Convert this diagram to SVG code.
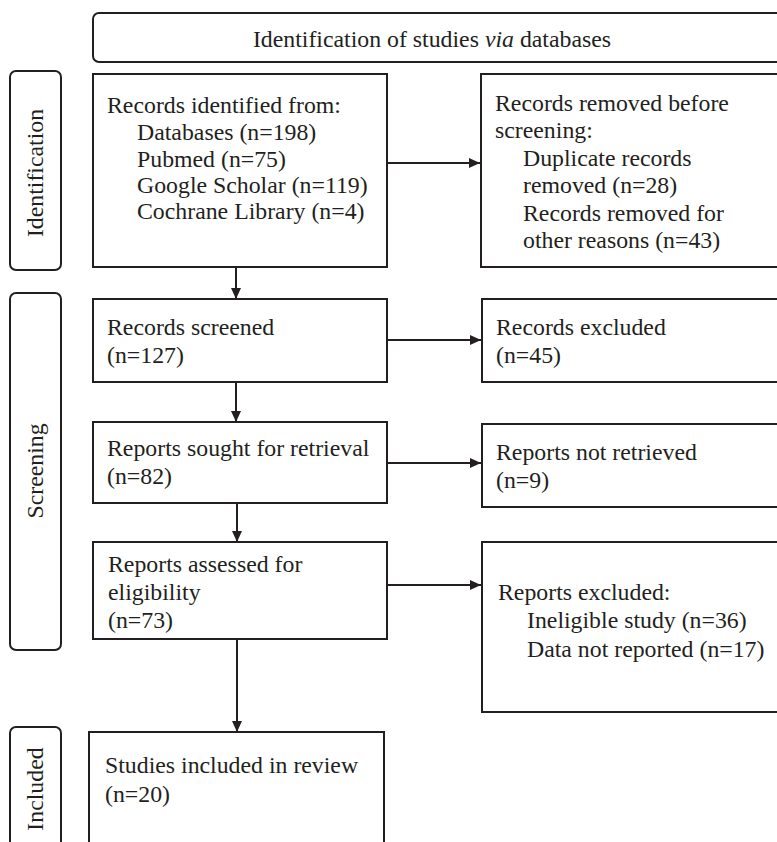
<svg xmlns="http://www.w3.org/2000/svg" width="777" height="842" viewBox="0 0 777 842">
<style>
  .box { fill: #ffffff; stroke: #231f20; stroke-width: 2; }
  .lbl { fill: #ffffff; stroke: #231f20; stroke-width: 2; }
  .t { font-family: "Liberation Serif", "Times New Roman", serif; font-size: 23.8px; fill: #231f20; }
  .c { fill: none; stroke: #231f20; stroke-width: 2; marker-end: url(#ah); }
</style>
<defs>
  <marker id="ah" markerWidth="11" markerHeight="10" refX="11" refY="5" orient="auto" markerUnits="userSpaceOnUse">
    <path d="M0,0 L11,5 L0,10 z" fill="#231f20"/>
  </marker>
</defs>
<rect width="777" height="842" fill="#ffffff"/>

<g id="header">
  <rect class="lbl" x="93" y="13" width="720" height="49" rx="6"/>
  <text class="t" x="432" y="47" text-anchor="middle">Identification of studies <tspan font-style="italic">via</tspan> databases</text>
</g>

<g id="label-identification">
  <rect class="lbl" x="10" y="71" width="51" height="199" rx="6"/>
  <text class="t" transform="translate(43,173) rotate(-90)" text-anchor="middle">Identification</text>
</g>
<g id="label-screening">
  <rect class="lbl" x="10" y="293" width="51" height="357" rx="6"/>
  <text class="t" transform="translate(43,471) rotate(-90)" text-anchor="middle">Screening</text>
</g>
<g id="label-included">
  <rect class="lbl" x="10" y="727" width="51" height="140" rx="6"/>
  <text class="t" transform="translate(43,789) rotate(-90)" text-anchor="middle">Included</text>
</g>

<g id="connectors">
  <line class="c" x1="387" y1="163" x2="480" y2="163"/>
  <line class="c" x1="387" y1="340" x2="481" y2="340"/>
  <line class="c" x1="387" y1="463" x2="481" y2="463"/>
  <line class="c" x1="388" y1="585" x2="481" y2="585"/>
  <line class="c" x1="236" y1="267" x2="236" y2="299"/>
  <line class="c" x1="236" y1="382" x2="236" y2="422"/>
  <line class="c" x1="237" y1="503" x2="237" y2="542"/>
  <line class="c" x1="237" y1="639" x2="237" y2="732"/>
</g>

<g id="records-identified">
  <rect class="box" x="93" y="74" width="294" height="193"/>
  <text class="t" x="107" y="113">Records identified from:</text>
  <text class="t" x="137" y="140">Databases (n=198)</text>
  <text class="t" x="137" y="167">Pubmed (n=75)</text>
  <text class="t" x="137" y="193">Google Scholar (n=119)</text>
  <text class="t" x="137" y="219">Cochrane Library (n=4)</text>
</g>

<g id="records-removed">
  <rect class="box" x="481" y="74" width="330" height="193"/>
  <text class="t" x="495" y="111">Records removed before</text>
  <text class="t" x="495" y="138">screening:</text>
  <text class="t" x="523" y="166">Duplicate records</text>
  <text class="t" x="523" y="193">removed (n=28)</text>
  <text class="t" x="523" y="221">Records removed for</text>
  <text class="t" x="523" y="248">other reasons (n=43)</text>
</g>

<g id="records-screened">
  <rect class="box" x="93" y="299" width="294" height="83"/>
  <text class="t" x="107" y="335">Records screened</text>
  <text class="t" x="107" y="363">(n=127)</text>
</g>

<g id="records-excluded">
  <rect class="box" x="482" y="299" width="330" height="83"/>
  <text class="t" x="496" y="335">Records excluded</text>
  <text class="t" x="496" y="363">(n=45)</text>
</g>

<g id="reports-sought">
  <rect class="box" x="93" y="422" width="294" height="81"/>
  <text class="t" x="107" y="456">Reports sought for retrieval</text>
  <text class="t" x="107" y="484">(n=82)</text>
</g>

<g id="reports-not-retrieved">
  <rect class="box" x="482" y="424" width="330" height="83"/>
  <text class="t" x="496" y="460">Reports not retrieved</text>
  <text class="t" x="496" y="488">(n=9)</text>
</g>

<g id="reports-assessed">
  <rect class="box" x="93" y="542" width="294" height="97"/>
  <text class="t" x="108" y="572">Reports assessed for</text>
  <text class="t" x="108" y="600">eligibility</text>
  <text class="t" x="108" y="628">(n=73)</text>
</g>

<g id="reports-excluded">
  <rect class="box" x="482" y="542" width="330" height="170"/>
  <text class="t" x="498" y="600">Reports excluded:</text>
  <text class="t" x="527" y="628">Ineligible study (n=36)</text>
  <text class="t" x="527" y="657">Data not reported (n=17)</text>
</g>

<g id="studies-included">
  <rect class="box" x="89" y="732" width="295" height="140"/>
  <text class="t" x="105" y="773">Studies included in review</text>
  <text class="t" x="105" y="802">(n=20)</text>
</g>
</svg>
